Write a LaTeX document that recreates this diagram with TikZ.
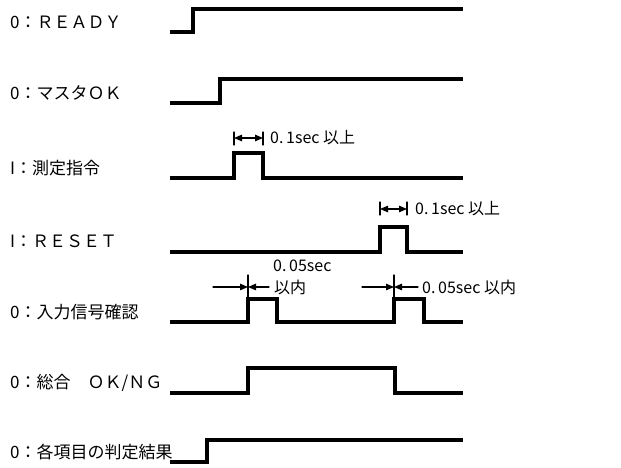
\documentclass[tikz,border=0pt]{standalone}
\usepackage{fontspec}
\setmainfont{Noto Sans CJK JP}
\usetikzlibrary{arrows.meta}
\usetikzlibrary{calc}
\usetikzlibrary{positioning}
\tikzset{
  sig/.style={line width=3.2pt, line join=miter, line cap=butt},
  dim/.style={line width=1.2pt},
  tip/.style={-{Triangle[length=8pt,width=6.5pt]}},
  dimarrow/.style={dim, tip},
  lbl/.style={anchor=west, inner sep=0pt, font=\fontsize{17}{18}\selectfont},
  note/.style={anchor=west, inner sep=0pt, font=\fontsize{16}{17}\selectfont}
}
\begin{document}
\begin{tikzpicture}[x=1pt, y=-1pt, line cap=round, line join=round]
			\useasboundingbox (0,0) rectangle (621,468);
			
			% Signal names
			\node[lbl] (rdy) at (10,22) {0：ＲＥＡＤＹ};
			\node[lbl] (mok) at (10,93) {0：マスタＯＫ};
			\node[lbl] (cmd) at (10,168) {I：測定指令};
			\node[lbl] (rst) at (10,241) {I：ＲＥＳＥＴ};
			\node[lbl] (chk) at (10,312) {0：入力信号確認};
			\node[lbl] (tot) at (10,383) {0：総合　ＯＫ/ＮＧ};
			\node[lbl] (res) at (10,452) {0：各項目の判定結果};
			
			% READY
			\draw[sig] (170,32) -- (193,32) -- (193,9) -- (463,9);
			% Master OK
			\draw[sig] (170,103) -- (220,103) -- (220,79) -- (463,79);
			% Measure command pulse
			\coordinate (cmdUp) at (234,153);
			\coordinate (cmdDn) at (263,153);
			\draw[sig] (170,178) -- (234,178) -- (cmdUp) -- (cmdDn) -- (263,178) -- (463,178);
			% RESET pulse
			\coordinate (rstUp) at (380,227);
			\coordinate (rstDn) at (407,227);
			\draw[sig] (170,252) -- (380,252) -- (rstUp) -- (rstDn) -- (407,252) -- (463,252);
			% Input check pulses
			\coordinate (chkA) at (248,299);
			\coordinate (chkB) at (394,299);
			\draw[sig] (170,322) -- (248,322) -- (chkA) -- (277,299) -- (277,322)
			  -- (394,322) -- (chkB) -- (424,299) -- (424,322) -- (463,322);
			% Total OK/NG
			\draw[sig] (170,393) -- (248,393) -- (248,368) -- (395,368) -- (395,393) -- (463,393);
			% Item results
			\draw[sig] (170,462) -- (207,462) -- (207,440) -- (463,440);
			
			% 0.1sec min (measure command)
			\draw[dim] ($(cmdUp)+(0,-21)$) -- ($(cmdUp)+(0,-8)$);
			\draw[dim] ($(cmdDn)+(0,-21)$) -- ($(cmdDn)+(0,-8)$);
			\draw[dim, {Triangle[length=8pt,width=6.5pt]}-{Triangle[length=8pt,width=6.5pt]}]
			  ($(cmdUp)+(0,-15)$) -- ($(cmdDn)+(0,-15)$);
			\node[note] (cmdTxt) at ($(cmdDn)+(7,-15)$) {0.\,1sec 以上};
			
			% 0.1sec min (RESET)
			\draw[dim] ($(rstUp)+(0,-25)$) -- ($(rstUp)+(0,-12)$);
			\draw[dim] ($(rstDn)+(0,-25)$) -- ($(rstDn)+(0,-12)$);
			\draw[dim, {Triangle[length=8pt,width=6.5pt]}-{Triangle[length=8pt,width=6.5pt]}]
			  ($(rstUp)+(0,-18)$) -- ($(rstDn)+(0,-18)$);
			\node[note] (rstTxt) at ($(rstDn)+(8,-18)$) {0.\,1sec 以上};
			
			% 0.05sec max (first pulse)
			\draw[dim] ($(chkA)+(0,-24)$) -- (chkA);
			\draw[dimarrow] ($(chkA)+(-35,-12)$) -- ($(chkA)+(0,-12)$);
			\draw[dimarrow] ($(chkA)+(21,-12)$) -- ($(chkA)+(0,-12)$);
			\node[note] (chkTxtA) at ($(chkA)+(25,-33)$) {0.\,05sec};
			\node[note] (chkTxtB) at ($(chkA)+(26,-12)$) {以内};
			
			% 0.05sec max (second pulse)
			\draw[dim] ($(chkB)+(0,-24)$) -- (chkB);
			\draw[dimarrow] ($(chkB)+(-32,-12)$) -- ($(chkB)+(0,-12)$);
			\draw[dimarrow] ($(chkB)+(24,-12)$) -- ($(chkB)+(0,-12)$);
			\node[note] (chkTxtC) at ($(chkB)+(28,-12)$) {0.\,05sec 以内};
		\end{tikzpicture}
\end{document}
